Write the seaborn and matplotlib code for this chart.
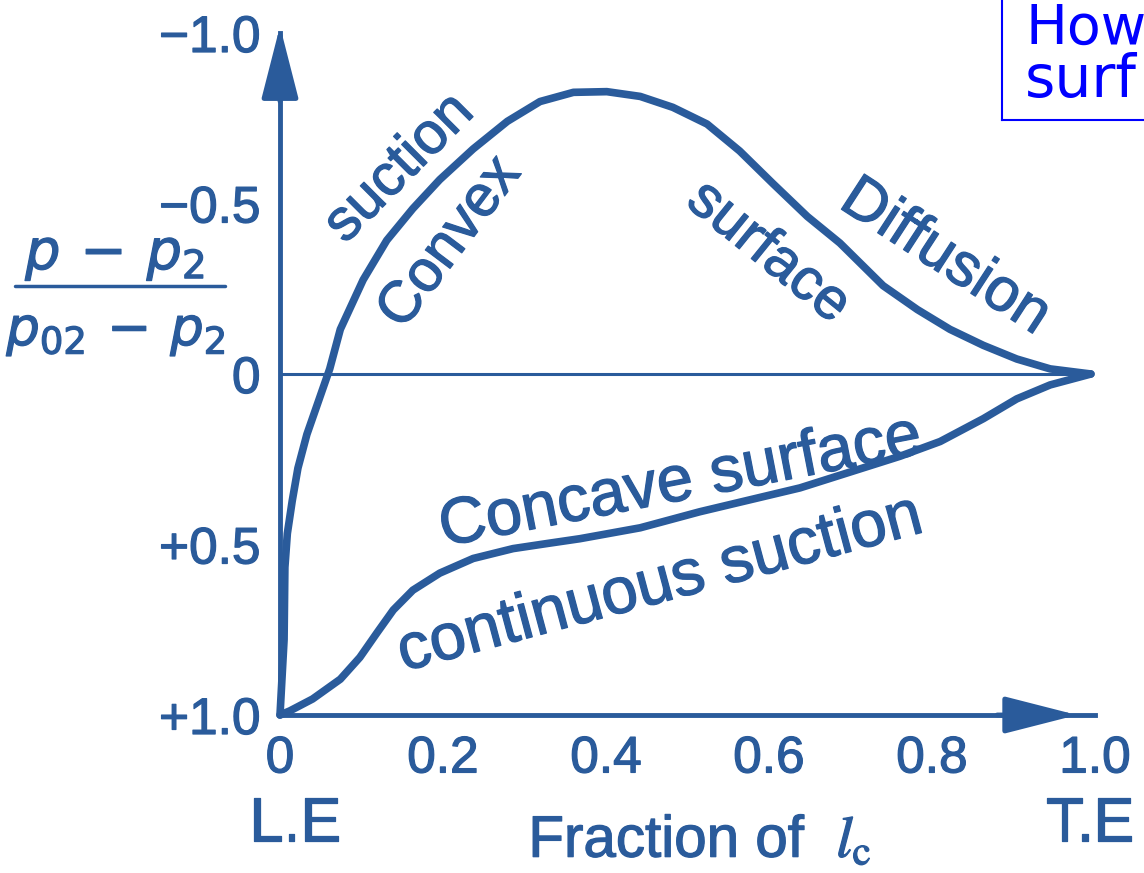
import numpy as np
import pandas as pd
import matplotlib
matplotlib.use("Agg")
import matplotlib.pyplot as plt
import matplotlib.patheffects as pe
import seaborn as sns

# ---- data ----
suction_x = [0.0, 0.005, 0.006, 0.009, 0.015, 0.022, 0.033, 0.047, 0.061, 0.074, 0.102,
             0.131, 0.163, 0.196, 0.237, 0.279, 0.319, 0.360, 0.401, 0.442, 0.482,
             0.524, 0.564, 0.605, 0.647, 0.687, 0.740, 0.782, 0.822, 0.863, 0.904,
             0.945, 0.995]
suction_y = [1.0, 0.779, 0.567, 0.468, 0.372, 0.276, 0.177, 0.081, -0.015, -0.131, -0.276,
             -0.392, -0.485, -0.570, -0.660, -0.741, -0.799, -0.826, -0.828, -0.814, -0.782,
             -0.733, -0.654, -0.558, -0.462, -0.384, -0.259, -0.189, -0.131, -0.084, -0.044,
             -0.015, 0.0]
pressure_x = [0.0, 0.012, 0.040, 0.074, 0.098, 0.119, 0.139, 0.163, 0.196, 0.237,
              0.286, 0.328, 0.368, 0.442, 0.515, 0.638, 0.761, 0.810, 0.863, 0.904,
              0.945, 0.995]
pressure_y = [1.0, 0.988, 0.953, 0.895, 0.831, 0.759, 0.692, 0.634, 0.584, 0.541,
              0.512, 0.497, 0.483, 0.451, 0.404, 0.334, 0.241, 0.198, 0.131, 0.073,
              0.032, 0.0]
y_ticks = [-1.0, -0.5, 0.0, 0.5, 1.0]
y_tick_labels = ["\u22121.0", "\u22120.5", "0", "+0.5", "+1.0"]
x_ticks = [0.0, 0.2, 0.4, 0.6, 0.8, 1.0]
x_tick_labels = ["0", "0.2", "0.4", "0.6", "0.8", "1.0"]

BLUE = "#2a5b9b"
sns.set_style("white")
plt.rcParams["font.family"] = ["Liberation Sans", "DejaVu Sans"]
THICK = [pe.withStroke(linewidth=0.9, foreground=BLUE)]

fig = plt.figure(figsize=(11.44, 8.73), dpi=100)
ax = fig.add_axes([280 / 1144, 158 / 873, 815 / 1144, 682 / 873])

df = pd.concat([
    pd.DataFrame({"x": suction_x, "y": suction_y, "surface": "suction"}),
    pd.DataFrame({"x": pressure_x, "y": pressure_y, "surface": "pressure"}),
])
sns.lineplot(data=df, x="x", y="y", hue="surface", palette=[BLUE, BLUE],
             sort=False, estimator=None, legend=False, linewidth=5.5, ax=ax)
for ln in ax.lines:
    ln.set_clip_on(False)
    ln.set_solid_capstyle("round")
    ln.set_solid_joinstyle("round")

ax.axhline(0, xmin=0, xmax=0.995, color=BLUE, lw=2.2)

ax.set_xlim(0, 1.0)
ax.set_ylim(1.0, -1.0)
for s in ["top", "right"]:
    ax.spines[s].set_visible(False)
for s in ["left", "bottom"]:
    ax.spines[s].set_color(BLUE)
    ax.spines[s].set_linewidth(3.5)

ax.set_yticks(y_ticks)
ax.set_yticklabels(y_tick_labels)
ax.set_xticks(x_ticks)
ax.set_xticklabels(x_tick_labels)
ax.tick_params(axis="y", direction="in", length=25, width=2.5, color=BLUE,
               labelcolor=BLUE, labelsize=37, pad=14)
ax.tick_params(axis="x", direction="in", length=25, width=2.5, color=BLUE,
               labelcolor=BLUE, labelsize=37, pad=14)
for t in ax.get_xticklabels() + ax.get_yticklabels():
    t.set_path_effects(THICK)
ax.set_xlabel("")
ax.set_ylabel("")

# axis arrows
ax.annotate("", xy=(0, -1.02), xytext=(0, -0.80), annotation_clip=False,
            arrowprops=dict(arrowstyle="-|>,head_length=4.5,head_width=1.15",
                            mutation_scale=10, color=BLUE, lw=3.5, shrinkA=0, shrinkB=0))
ax.annotate("", xy=(0.978, 1.0), xytext=(0.88, 1.0), annotation_clip=False,
            arrowprops=dict(arrowstyle="-|>,head_length=4.5,head_width=1.15",
                            mutation_scale=10, color=BLUE, lw=3.5, shrinkA=0, shrinkB=0))

# curve annotations
lab = dict(color=BLUE, ha="center", va="center", rotation_mode="anchor", path_effects=THICK)
ax.text(0.147, -0.602, "suction", rotation=45, fontsize=42, **lab)
ax.text(0.209, -0.384, "Convex", rotation=53, fontsize=42, **lab)
ax.text(0.599, -0.355, "surface", rotation=-39, fontsize=42, **lab)
ax.text(0.816, -0.340, "Diffusion", rotation=-33, fontsize=44, **lab)
ax.text(0.491, 0.320, "Concave surface", rotation=11, fontsize=47, **lab)
ax.text(0.466, 0.619, "continuous suction", rotation=15, fontsize=47, **lab)

# bottom labels
fig.text(295 / 1144, 1 - 825 / 873, "L.E", color=BLUE, fontsize=44, ha="center",
         va="center", path_effects=THICK)
fig.text(1090 / 1144, 1 - 825 / 873, "T.E", color=BLUE, fontsize=44, ha="center",
         va="center", path_effects=THICK)
fig.text(700 / 1144, 1 - 842 / 873, r"Fraction of  $l_{\mathrm{c}}$", color=BLUE, fontsize=42,
         ha="center", va="center", math_fontfamily="stix", path_effects=THICK)

# y label as a fraction
fig.text(115 / 1144, 1 - 256 / 873, r"$p\,-\,p_2$", color=BLUE, fontsize=40,
         ha="center", va="center", math_fontfamily="dejavusans", path_effects=THICK)
fig.add_artist(plt.Line2D([15 / 1144, 225 / 1144], [1 - 286 / 873, 1 - 286 / 873],
                          color=BLUE, lw=2.5))
fig.text(116 / 1144, 1 - 333 / 873, r"$p_{02}\,-\,p_2$", color=BLUE, fontsize=38,
         ha="center", va="center", math_fontfamily="dejavusans", path_effects=THICK)

# cropped question box in the top-right corner
bax = fig.add_axes([1002 / 1144, 1 - 120 / 873, 0.3, 0.3])
bax.set_xticks([])
bax.set_yticks([])
bax.set_facecolor("white")
for s in bax.spines.values():
    s.set_color("#0000ff")
    s.set_linewidth(1.5)
bax.set_xlim(0, 1)
bax.set_ylim(0, 1)
bax.text(23 / 343, (120 - 44) / 262, "How", color="#0000ff", fontsize=40,
         family="DejaVu Sans", ha="left", va="baseline", clip_on=True)
bax.text(23 / 343, (120 - 97) / 262, "surf", color="#0000ff", fontsize=42,
         family="DejaVu Sans", ha="left", va="baseline", clip_on=True)

fig.savefig("out.png", dpi=100, facecolor="white")
